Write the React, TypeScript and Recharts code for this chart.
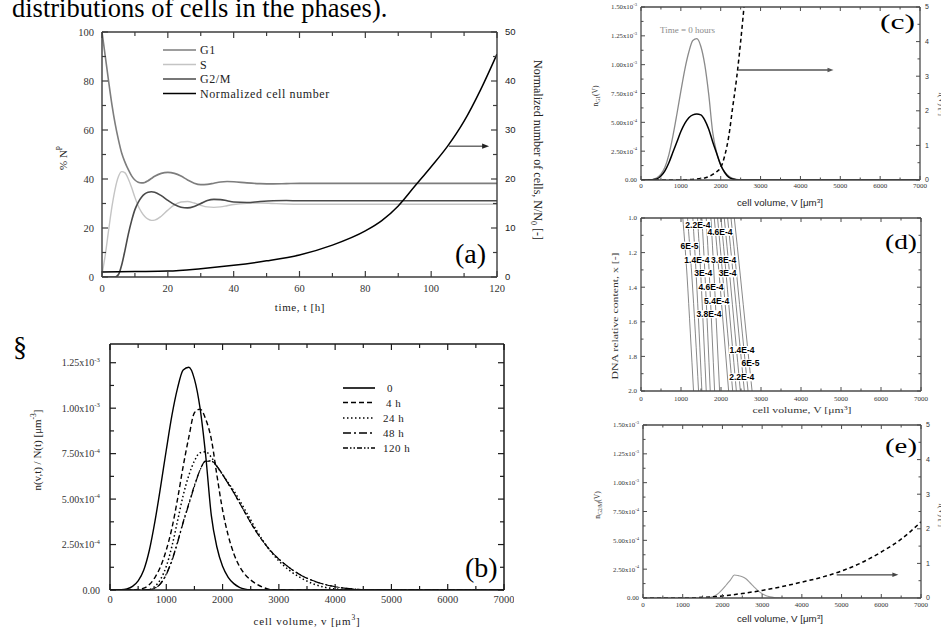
import React from 'react';
import { LineChart, Line, XAxis, YAxis, ReferenceLine, ReferenceDot } from 'recharts';

const SERIF = '"Liberation Serif", "Times New Roman", serif';
const SANS = '"Liberation Sans", Arial, sans-serif';

// ---------------- (a) phase fractions and cell number ----------------
const tPhase = [0,1,2,3,4,5,6,7,8,9,10,11,12,13,14,15,16,18,20,22,24,26,28,30,32,34,36,38,40,44,48,52,56,60,70,80,90,100,110,120];
const g1Pct = [100,90,80,70.5,62.5,56,50.5,46.8,43.8,41.3,39.6,38.7,38.4,38.6,39.3,40.2,41.1,42.3,42.7,42.3,41.2,39.6,38.3,37.7,37.8,38.3,38.8,39.0,38.9,38.4,38.1,38.0,38.1,38.2,38.2,38.2,38.2,38.2,38.2,38.2];
const sPct = [1,9,19,28.5,36,41,43,42.5,40,36.5,32.5,29,26.5,24.7,23.6,23.1,23.2,24.8,27.3,29.4,30.6,30.8,30.2,29.3,28.6,28.4,28.6,29.1,29.6,30.1,30.2,30.0,29.8,29.7,29.7,29.7,29.7,29.7,29.7,29.7];
const g2mPct = [0,0,0,0,0,1,5,11,17.5,23,27.5,30.5,32.6,33.9,34.6,34.8,34.6,33.2,31.3,29.6,28.5,28.2,28.8,30,31.2,31.7,31.6,31.1,30.6,30.4,30.8,31.1,31.2,31.1,31.1,31.1,31.1,31.1,31.1,31.1];
const tCells = [0,10,20,30,40,50,60,70,80,85,90,95,100,105,110,115,120];
const cellsNorm = [1,1.1,1.2,1.7,2.4,3.3,4.5,6.5,9.4,11.5,14.5,18.5,22.5,26.7,31.8,38.2,45.5];

const tTicksA = [0,10,20,30,40,50,60,70,80,90,100,110,120];
const tLabelsA = [0,20,40,60,80,100,120];
const pctTicks = [0,10,20,30,40,50,60,70,80,90,100];
const pctLabels = [0,20,40,60,80,100];
const nTicks = [0,5,10,15,20,25,30,35,40,45,50];
const nLabels = [0,10,20,30,40,50];

// ---------------- (b) volume distributions (units of 1e-3 um^-3) ----------------
const vB = [0,200,300,400,500,600,700,800,900,1000,1100,1200,1300,1400,1500,1600,1700,1800,1900,2000,2100,2200,2300,2400,2500,2600,2700,2800,2900,3000,3200,3400,3600,3800,4000,4200,4400,4600,4800,5000,6000,7000];
const nB0 = [0,0.001,0.006,0.02,0.05,0.11,0.22,0.38,0.57,0.77,0.96,1.11,1.21,1.225,1.16,1.0,0.74,0.41,0.235,0.13,0.07,0.035,0.015,0.005,0.001,0,0,0,0,0,0,0,0,0,0,0,0,0,0,0,0,0];
const nB4 = [0,0,0,0,0.003,0.01,0.03,0.07,0.13,0.22,0.34,0.5,0.68,0.84,0.975,0.995,0.94,0.83,0.63,0.44,0.3,0.2,0.13,0.085,0.055,0.033,0.017,0.006,0.001,0,0,0,0,0,0,0,0,0,0,0,0,0];
const nB24 = [0,0,0,0,0,0,0.003,0.02,0.06,0.13,0.24,0.38,0.52,0.63,0.71,0.755,0.76,0.73,0.68,0.635,0.59,0.545,0.495,0.44,0.385,0.33,0.28,0.235,0.195,0.16,0.105,0.065,0.035,0.016,0.006,0.002,0,0,0,0,0,0];
const nB48 = [0,0,0,0,0,0,0.002,0.01,0.035,0.085,0.16,0.26,0.37,0.47,0.57,0.66,0.71,0.71,0.68,0.635,0.585,0.535,0.48,0.425,0.37,0.32,0.275,0.235,0.2,0.17,0.12,0.08,0.052,0.032,0.018,0.009,0.004,0.0015,0.0005,0,0,0];
const nB120 = [0,0,0,0,0,0,0.002,0.011,0.037,0.088,0.165,0.265,0.375,0.475,0.575,0.66,0.708,0.708,0.68,0.635,0.585,0.535,0.48,0.425,0.37,0.32,0.275,0.235,0.2,0.17,0.12,0.08,0.052,0.032,0.018,0.009,0.004,0.0015,0.0005,0,0,0];
const legendBNames = ['0', '4 h', '24 h', '48 h', '120 h'];

const vTicks = [0,500,1000,1500,2000,2500,3000,3500,4000,4500,5000,5500,6000,6500,7000];
const vLabels = [0,1000,2000,3000,4000,5000,6000,7000];
const densTicksB = [0,0.125,0.25,0.375,0.5,0.625,0.75,0.875,1,1.125,1.25];
const densLabelsB = [0,0.25,0.5,0.75,1,1.25];

// ---------------- (c) G1 at t = 0 ----------------
const nG1Black = [0,0,0.003,0.01,0.035,0.08,0.15,0.24,0.33,0.42,0.49,0.54,0.565,0.572,0.565,0.52,0.44,0.33,0.23,0.13,0.065,0.025,0.008,0.002,0,0,0,0,0,0,0,0,0,0,0,0,0,0,0,0,0,0];
const vCd = [0,1000,1200,1400,1600,1700,1800,1900,2000,2100,2200,2300,2400,2500,2600];
const fC = [0,0,0.01,0.03,0.06,0.1,0.16,0.24,0.36,0.7,1.25,2.1,2.95,4.0,5.2];
const densTicksC = [0,0.125,0.25,0.375,0.5,0.625,0.75,0.875,1,1.125,1.25,1.375,1.5];
const densLabelsC = [0,0.25,0.5,0.75,1,1.25,1.5];
const fTicks = [0,0.5,1,1.5,2,2.5,3,3.5,4,4.5,5];
const fLabels = [0,1,2,3,4,5];

// ---------------- (d) contour lines (V at DNA content 1.0, 1.33, 1.67, 2.0) ----------------
const contourDna = [1.0, 1.33, 1.67, 2.0];
const contourLinesV = [
  [1045, 1150, 1235, 1313],
  [1163, 1270, 1360, 1439],
  [1296, 1380, 1455, 1522],
  [1413, 1495, 1565, 1631],
  [1522, 1600, 1668, 1731],
  [1631, 1708, 1776, 1840],
  [1748, 1826, 1897, 1965],
  [1832, 1955, 2075, 2191],
  [1915, 2042, 2168, 2292],
  [1999, 2130, 2258, 2384],
  [2082, 2218, 2352, 2484],
  [2166, 2306, 2446, 2584],
  [2250, 2393, 2535, 2676],
  [2333, 2482, 2630, 2777],
];
const contourLabelText = ['2.2E-4','4.6E-4','6E-5','1.4E-4','3.8E-4','3E-4','3E-4','4.6E-4','5.4E-4','3.8E-4','1.4E-4','6E-5','2.2E-4'];
const contourLabelV = [1422,1974,1213,1397,2066,1556,2166,1748,1890,1698,2526,2735,2517];
const contourLabelX = [1.04,1.08,1.16,1.24,1.24,1.32,1.32,1.40,1.48,1.556,1.763,1.84,1.921];
const dnaTicks = [1,1.1,1.2,1.3,1.4,1.5,1.6,1.7,1.8,1.9,2];
const dnaLabels = [1,1.2,1.4,1.6,1.8,2];

// ---------------- (e) G2/M ----------------
const vE = [0,1500,1600,1700,1800,1900,2000,2100,2200,2300,2400,2500,2600,2700,2800,2900,3000,3100,3200,3300,3400,3500,7000];
const nG2Me = [0,0,0.002,0.006,0.018,0.04,0.075,0.115,0.155,0.199,0.194,0.185,0.165,0.13,0.095,0.062,0.037,0.02,0.01,0.004,0.001,0,0];
const vEd = [0,1000,1500,2000,2500,3000,3500,4000,4500,5000,5500,6000,6500,7000];
const fE = [0,0,0.02,0.06,0.13,0.22,0.33,0.46,0.6,0.78,1.02,1.33,1.7,2.2];

// ---------------- helpers ----------------
type Side = 'left' | 'right' | 'top' | 'bottom';
type TickSpec = {
  side: Side; gap: number; majors: number[]; len: number; minor: number;
  stroke: string; sw: number;
  fmt?: (v: number) => React.ReactNode; font?: string; size?: number; fill?: string;
};
const near = (a: number[], v: number) => a.some((m) => Math.abs(m - v) < 1e-6);
const mkTick = (s: TickSpec) => (p: any) => {
  const x = Number(p.x);
  const y = Number(p.y);
  const v = Number(p.payload ? p.payload.value : NaN);
  const major = near(s.majors, v);
  const L = major ? s.len : s.minor;
  const ls = { stroke: s.stroke, strokeWidth: s.sw };
  const size = s.size || 10;
  const ts: any = { fontFamily: s.font || SERIF, fontSize: size, fill: s.fill || '#222' };
  const lab = major && s.fmt ? s.fmt(v) : null;
  if (s.side === 'bottom') {
    const a = y - s.gap;
    return (
      <g>
        <line x1={x} x2={x} y1={a} y2={a - L} {...ls} />
        {lab !== null && <text x={x} y={y} textAnchor="middle" style={ts}>{lab}</text>}
      </g>
    );
  }
  if (s.side === 'top') {
    const a = y + s.gap;
    return <g><line x1={x} x2={x} y1={a} y2={a + L} {...ls} /></g>;
  }
  if (s.side === 'left') {
    const a = x + s.gap;
    return (
      <g>
        <line x1={a} x2={a + L} y1={y} y2={y} {...ls} />
        {lab !== null && <text x={x} y={y} dy={size * 0.35} textAnchor="end" style={ts}>{lab}</text>}
      </g>
    );
  }
  const a = x - s.gap;
  return (
    <g>
      <line x1={a} x2={a - L} y1={y} y2={y} {...ls} />
      {lab !== null && <text x={x} y={y} dy={size * 0.35} textAnchor="start" style={ts}>{lab}</text>}
    </g>
  );
};

const expLabel = (size: number) => (v: number): React.ReactNode => {
  if (v === 0) return '0.00';
  const val = v * 1e-3;
  const e = Math.floor(Math.log10(val) + 1e-9);
  const m = val / Math.pow(10, e);
  return (
    <>
      <tspan>{m.toFixed(2)}x10</tspan>
      <tspan dy={-size * 0.45} fontSize={size * 0.68}>{String(e)}</tspan>
    </>
  );
};

const arrowShape = (color: string, w: number, head: number) => (p: any) => {
  const x1 = Number(p.x1), y1 = Number(p.y1), x2 = Number(p.x2), y2 = Number(p.y2);
  return (
    <g>
      <line x1={x1} y1={y1} x2={x2 - head * 0.8} y2={y2} stroke={color} strokeWidth={w} />
      <polygon points={`${x2},${y2} ${x2 - head},${y2 - head * 0.38} ${x2 - head},${y2 + head * 0.38}`} fill={color} />
    </g>
  );
};

const charW: Record<string, number> = { '.': 0.278, E: 0.667, '-': 0.333 };
const textW = (s: string, size: number) => s.split('').reduce((a, c) => a + (charW[c] ?? 0.556), 0) * size;
const contourLabelShape = (label: string) => (p: any) => {
  const cx = Number(p.cx), cy = Number(p.cy);
  const w = textW(label, 8.5);
  return (
    <g>
      <rect x={cx - w / 2 - 0.5} y={cy - 4} width={w + 1} height={8} fill="#fff" />
      <text x={cx} y={cy} dy={3.1} textAnchor="middle" fontFamily={SANS} fontWeight="bold" fontSize={8.5} fill="#000">{label}</text>
    </g>
  );
};

const M0 = { top: 0, right: 0, bottom: 0, left: 0 };

// ---------------- panels ----------------
function PanelA() {
  const AX = '#3c3c3c';
  const phase = tPhase.map((t, i) => ({ t, g1: g1Pct[i], s: sPct[i], g2m: g2mPct[i] }));
  const cells = tCells.map((t, i) => ({ t, n: cellsNorm[i] }));
  const axl = { stroke: AX, strokeWidth: 1.4 };
  return (
    <div style={{ position: 'absolute', left: 40, top: 22 }}>
      <LineChart width={502} height={295} margin={M0}>
        <XAxis xAxisId={0} type="number" dataKey="t" domain={[0, 120]} allowDataOverflow ticks={tTicksA} interval={0}
          height={40} tickSize={0} tickMargin={15} tickLine={false} axisLine={axl}
          tick={mkTick({ side: 'bottom', gap: 15, majors: tLabelsA, len: 6, minor: 4, stroke: AX, sw: 1.2, fmt: (v) => String(v), size: 10.5, fill: '#333' })} />
        <XAxis xAxisId="top" orientation="top" type="number" dataKey="t" domain={[0, 120]} allowDataOverflow ticks={tTicksA} interval={0}
          height={10} tickSize={0} tickMargin={0} tickLine={false} axisLine={axl}
          tick={mkTick({ side: 'top', gap: 0, majors: tLabelsA, len: 6, minor: 4, stroke: AX, sw: 1.2 })} />
        <YAxis yAxisId="left" type="number" domain={[0, 100]} allowDataOverflow ticks={pctTicks} interval={0}
          width={62} tickSize={0} tickMargin={8} tickLine={false} axisLine={axl}
          tick={mkTick({ side: 'left', gap: 8, majors: pctLabels, len: 6, minor: 4, stroke: AX, sw: 1.2, fmt: (v) => String(v), size: 10.5, fill: '#333' })} />
        <YAxis yAxisId="right" orientation="right" type="number" domain={[0, 50]} allowDataOverflow ticks={nTicks} interval={0}
          width={45} tickSize={0} tickMargin={8} tickLine={false} axisLine={axl}
          tick={mkTick({ side: 'right', gap: 8, majors: nLabels, len: 6, minor: 4, stroke: AX, sw: 1.2, fmt: (v) => String(v), font: SANS, size: 9.5, fill: '#222' })} />
        <Line data={phase} yAxisId="left" dataKey="s" type="monotone" stroke="#c4c4c4" strokeWidth={1.4} dot={false} activeDot={false} isAnimationActive={false} />
        <Line data={phase} yAxisId="left" dataKey="g1" type="monotone" stroke="#7d7d7d" strokeWidth={1.6} dot={false} activeDot={false} isAnimationActive={false} />
        <Line data={phase} yAxisId="left" dataKey="g2m" type="monotone" stroke="#4a4a4a" strokeWidth={1.6} dot={false} activeDot={false} isAnimationActive={false} />
        <Line data={cells} yAxisId="right" dataKey="n" type="monotone" stroke="#000" strokeWidth={1.5} dot={false} activeDot={false} isAnimationActive={false} />
        <ReferenceLine yAxisId="right" segment={[{ x: 105.4, y: 26.7 }, { x: 117.6, y: 26.7 }]} shape={arrowShape('#222', 1, 7)} />
      </LineChart>
    </div>
  );
}

function PanelB() {
  const AX = '#1a1a1a';
  const data = vB.map((v, i) => ({ v, a: nB0[i], b: nB4[i], c: nB24[i], d: nB48[i], e: nB120[i] }));
  const axl = { stroke: AX, strokeWidth: 1.5 };
  const common = { type: 'monotone' as const, stroke: '#000', strokeWidth: 1.4, dot: false, activeDot: false, isAnimationActive: false };
  return (
    <div style={{ position: 'absolute', left: 10, top: 334 }}>
      <LineChart width={504} height={296} data={data} margin={M0}>
        <XAxis xAxisId={0} type="number" dataKey="v" domain={[0, 7000]} allowDataOverflow ticks={vTicks} interval={0}
          height={40} tickSize={0} tickMargin={12.5} tickLine={false} axisLine={axl}
          tick={mkTick({ side: 'bottom', gap: 12.5, majors: vLabels, len: 6, minor: 4, stroke: AX, sw: 1.2, fmt: (v) => String(v), size: 10.5, fill: '#333' })} />
        <XAxis xAxisId="top" orientation="top" type="number" dataKey="v" domain={[0, 7000]} allowDataOverflow ticks={vTicks} interval={0}
          height={10} tickSize={0} tickMargin={0} tickLine={false} axisLine={axl}
          tick={mkTick({ side: 'top', gap: 0, majors: vLabels, len: 6, minor: 4, stroke: AX, sw: 1.2 })} />
        <YAxis yAxisId={0} type="number" domain={[0, 1.353]} allowDataOverflow ticks={densTicksB} interval={0}
          width={100} tickSize={0} tickMargin={10} tickLine={false} axisLine={axl}
          tick={mkTick({ side: 'left', gap: 10, majors: densLabelsB, len: 6, minor: 4, stroke: AX, sw: 1.2, fmt: expLabel(10), size: 10, fill: '#333' })} />
        <YAxis yAxisId="r" orientation="right" type="number" domain={[0, 1.353]} allowDataOverflow ticks={densTicksB} interval={0}
          width={10} tickSize={0} tickMargin={0} tickLine={false} axisLine={axl}
          tick={mkTick({ side: 'right', gap: 0, majors: densLabelsB, len: 6, minor: 4, stroke: AX, sw: 1.2 })} />
        <Line {...common} dataKey="e" strokeDasharray="6 2.5 1.5 2.5 1.5 2.5" strokeWidth={1.2} />
        <Line {...common} dataKey="d" strokeDasharray="8 3 2 3" strokeWidth={1.2} />
        <Line {...common} dataKey="c" strokeDasharray="1.5 2.5" strokeWidth={1.5} />
        <Line {...common} dataKey="b" strokeDasharray="5 3" />
        <Line {...common} dataKey="a" />
      </LineChart>
    </div>
  );
}

function PanelC() {
  const AX = '#4a4a4a';
  const data = vB.map((v, i) => ({ v, g: nB0[i], k: nG1Black[i] }));
  const dash = vCd.map((v, i) => ({ v, f: fC[i] }));
  const axl = { stroke: AX, strokeWidth: 1.3 };
  return (
    <div style={{ position: 'absolute', left: 585, top: 1 }}>
      <LineChart width={353} height={201} margin={M0}>
        <XAxis xAxisId={0} type="number" dataKey="v" domain={[0, 7000]} allowDataOverflow ticks={vTicks} interval={0}
          height={22} tickSize={0} tickMargin={7.5} tickLine={false} axisLine={axl}
          tick={mkTick({ side: 'bottom', gap: 7.5, majors: vLabels, len: 4, minor: 2.5, stroke: AX, sw: 1, fmt: (v) => String(v), size: 7, fill: '#333' })} />
        <XAxis xAxisId="top" orientation="top" type="number" dataKey="v" domain={[0, 7000]} allowDataOverflow ticks={vTicks} interval={0}
          height={6} tickSize={0} tickMargin={0} tickLine={false} axisLine={axl}
          tick={mkTick({ side: 'top', gap: 0, majors: vLabels, len: 4, minor: 2.5, stroke: AX, sw: 1 })} />
        <YAxis yAxisId={0} type="number" domain={[0, 1.5]} allowDataOverflow ticks={densTicksC} interval={0}
          width={56} tickSize={0} tickMargin={4} tickLine={false} axisLine={axl}
          tick={mkTick({ side: 'left', gap: 4, majors: densLabelsC, len: 4, minor: 2.5, stroke: AX, sw: 1, fmt: expLabel(6.8), size: 6.8, fill: '#333' })} />
        <YAxis yAxisId="r" orientation="right" type="number" domain={[0, 5]} allowDataOverflow ticks={fTicks} interval={0}
          width={18} tickSize={0} tickMargin={5} tickLine={false} axisLine={axl}
          tick={mkTick({ side: 'right', gap: 5, majors: fLabels, len: 4, minor: 2.5, stroke: AX, sw: 1, fmt: (v) => String(v), font: SANS, size: 7, fill: '#333' })} />
        <Line data={data} dataKey="g" type="monotone" stroke="#8a8a8a" strokeWidth={1.3} dot={false} activeDot={false} isAnimationActive={false} />
        <Line data={data} dataKey="k" type="monotone" stroke="#000" strokeWidth={1.5} dot={false} activeDot={false} isAnimationActive={false} />
        <Line data={dash} yAxisId="r" dataKey="f" type="monotone" stroke="#000" strokeWidth={1.5} strokeDasharray="4 3" dot={false} activeDot={false} isAnimationActive={false} />
        <ReferenceLine yAxisId="r" segment={[{ x: 2434, y: 3.18 }, { x: 4830, y: 3.18 }]} shape={arrowShape('#555', 1.5, 6)} />
      </LineChart>
    </div>
  );
}

function PanelD() {
  const AX = '#4a4a4a';
  const axl = { stroke: AX, strokeWidth: 1.3 };
  const lines = contourLinesV.map((vs) => vs.map((v, j) => ({ v, x: contourDna[j] })));
  return (
    <div style={{ position: 'absolute', left: 585, top: 212 }}>
      <LineChart width={348} height={199} margin={M0}>
        <XAxis xAxisId={0} type="number" dataKey="v" domain={[0, 7000]} allowDataOverflow ticks={vTicks} interval={0}
          height={20} tickSize={0} tickMargin={9.5} tickLine={false} axisLine={axl}
          tick={mkTick({ side: 'bottom', gap: 9.5, majors: vLabels, len: 4, minor: 2.5, stroke: AX, sw: 1, fmt: (v) => String(v), size: 7, fill: '#333' })} />
        <XAxis xAxisId="top" orientation="top" type="number" dataKey="v" domain={[0, 7000]} allowDataOverflow ticks={vTicks} interval={0}
          height={6} tickSize={0} tickMargin={0} tickLine={false} axisLine={axl}
          tick={mkTick({ side: 'top', gap: 0, majors: vLabels, len: 4, minor: 2.5, stroke: AX, sw: 1 })} />
        <YAxis yAxisId={0} type="number" domain={[1, 2]} reversed allowDataOverflow ticks={dnaTicks} interval={0}
          width={56} tickSize={0} tickMargin={4} tickLine={false} axisLine={axl}
          tick={mkTick({ side: 'left', gap: 4, majors: dnaLabels, len: 4, minor: 2.5, stroke: AX, sw: 1, fmt: (v) => v.toFixed(1), size: 7, fill: '#333' })} />
        <YAxis yAxisId="r" orientation="right" type="number" domain={[1, 2]} reversed allowDataOverflow ticks={dnaTicks} interval={0}
          width={12} tickSize={0} tickMargin={0} tickLine={false} axisLine={axl}
          tick={mkTick({ side: 'right', gap: 0, majors: dnaLabels, len: 4, minor: 2.5, stroke: AX, sw: 1 })} />
        {lines.map((d, i) => (
          <Line key={i} data={d} dataKey="x" type="monotone" stroke="#555" strokeWidth={0.7} dot={false} activeDot={false} isAnimationActive={false} />
        ))}
        {contourLabelText.map((t, i) => (
          <ReferenceDot key={'l' + i} x={contourLabelV[i]} y={contourLabelX[i]} r={0} ifOverflow="visible" shape={contourLabelShape(t)} />
        ))}
      </LineChart>
    </div>
  );
}

function PanelE() {
  const AX = '#4a4a4a';
  const axl = { stroke: AX, strokeWidth: 1.3 };
  const bell = vE.map((v, i) => ({ v, n: nG2Me[i] }));
  const dash = vEd.map((v, i) => ({ v, f: fE[i] }));
  return (
    <div style={{ position: 'absolute', left: 585, top: 419 }}>
      <LineChart width={354} height={205} margin={M0}>
        <XAxis xAxisId={0} type="number" dataKey="v" domain={[0, 7000]} allowDataOverflow ticks={vTicks} interval={0}
          height={26} tickSize={0} tickMargin={8.5} tickLine={false} axisLine={axl}
          tick={mkTick({ side: 'bottom', gap: 8.5, majors: vLabels, len: 4, minor: 2.5, stroke: AX, sw: 1, fmt: (v) => String(v), size: 7, fill: '#333' })} />
        <XAxis xAxisId="top" orientation="top" type="number" dataKey="v" domain={[0, 7000]} allowDataOverflow ticks={vTicks} interval={0}
          height={6} tickSize={0} tickMargin={0} tickLine={false} axisLine={axl}
          tick={mkTick({ side: 'top', gap: 0, majors: vLabels, len: 4, minor: 2.5, stroke: AX, sw: 1 })} />
        <YAxis yAxisId={0} type="number" domain={[0, 1.5]} allowDataOverflow ticks={densTicksC} interval={0}
          width={58} tickSize={0} tickMargin={4} tickLine={false} axisLine={axl}
          tick={mkTick({ side: 'left', gap: 4, majors: densLabelsC, len: 4, minor: 2.5, stroke: AX, sw: 1, fmt: expLabel(6.8), size: 6.8, fill: '#333' })} />
        <YAxis yAxisId="r" orientation="right" type="number" domain={[0, 5]} allowDataOverflow ticks={fTicks} interval={0}
          width={18} tickSize={0} tickMargin={5} tickLine={false} axisLine={axl}
          tick={mkTick({ side: 'right', gap: 5, majors: fLabels, len: 4, minor: 2.5, stroke: AX, sw: 1, fmt: (v) => String(v), font: SANS, size: 7, fill: '#333' })} />
        <Line data={bell} dataKey="n" type="monotone" stroke="#9a9a9a" strokeWidth={1.1} dot={false} activeDot={false} isAnimationActive={false} />
        <Line data={dash} yAxisId="r" dataKey="f" type="monotone" stroke="#000" strokeWidth={1.5} strokeDasharray="4 3" dot={false} activeDot={false} isAnimationActive={false} />
        <ReferenceLine yAxisId="r" segment={[{ x: 4877, y: 0.67 }, { x: 6430, y: 0.67 }]} shape={arrowShape('#444', 1.2, 6)} />
      </LineChart>
    </div>
  );
}

const legendA = [
  { name: 'G1', color: '#7d7d7d', w: 1.6 },
  { name: 'S', color: '#c4c4c4', w: 1.4 },
  { name: 'G2/M', color: '#4a4a4a', w: 1.6 },
  { name: 'Normalized cell number', color: '#000', w: 1.5 },
];
const legendBDash = [undefined, '5 3', '1.5 2.5', '8 3 2 3', '5 2 1.5 2 1.5 2'];

function Overlay() {
  const rowsA = [50, 64.5, 79, 93.5];
  const rowsB = [388, 402.5, 418, 433, 448];
  const textXB = [387, 386, 383, 383, 383];
  return (
    <svg width={941} height={631} style={{ position: 'absolute', left: 0, top: 0, pointerEvents: 'none' }}>
      <text x={12} y={17} fontFamily={SERIF} fontSize={26.5} fill="#000">distributions of cells in the phases).</text>

      {/* (a) legend */}
      {legendA.map((l, i) => (
        <g key={i}>
          <line x1={163} x2={196} y1={rowsA[i]} y2={rowsA[i]} stroke={l.color} strokeWidth={l.w} />
          <text x={200} y={rowsA[i] + 4.2} fontFamily={SERIF} fontSize={12} letterSpacing={0.6} fill="#222">{l.name}</text>
        </g>
      ))}
      <text transform="translate(63,158) rotate(-90)" textAnchor="middle" dy={4} fontFamily={SERIF} fontSize={11} fill="#222">
        % N<tspan dy={-5} fontSize={7.5}>P</tspan>
      </text>
      <text transform="translate(538,150) rotate(90)" textAnchor="middle" dy={4} fontFamily={SERIF} fontSize={12} fill="#222">
        Normalized number of cells, N/N<tspan dy={3} fontSize={8}>0</tspan><tspan dy={-3}> [-]</tspan>
      </text>
      <text x={300} y={311} textAnchor="middle" fontFamily={SERIF} fontSize={11} letterSpacing={0.6} fill="#222">time, t [h]</text>
      <text x={455} y={263} fontFamily={SERIF} fontSize={28} fill="#000">(a)</text>

      {/* (b) */}
      <text x={13} y={356} fontFamily={SERIF} fontSize={28} fill="#000">§</text>
      <text transform="translate(37,450) rotate(-90)" textAnchor="middle" dy={4} fontFamily={SERIF} fontSize={11} fill="#222">
        n(v,t) / N(t) [μm<tspan dy={-5} fontSize={7.5}>-3</tspan><tspan dy={5}>]</tspan>
      </text>
      <text x={307} y={625} textAnchor="middle" fontFamily={SERIF} fontSize={11} letterSpacing={0.8} fill="#222">
        cell volume, v [μm<tspan dy={-5} fontSize={7.5}>3</tspan><tspan dy={5}>]</tspan>
      </text>
      {legendBNames.map((n, i) => (
        <g key={i}>
          <line x1={343} x2={375} y1={rowsB[i]} y2={rowsB[i]} stroke="#000" strokeWidth={i === 0 ? 1.6 : 1.3} strokeDasharray={legendBDash[i]} />
          <text x={textXB[i]} y={rowsB[i] + 4} fontFamily={SERIF} fontSize={11} letterSpacing={0.5} fill="#222">{n}</text>
        </g>
      ))}
      <text x={465} y={577} fontFamily={SERIF} fontSize={28} fill="#000">(b)</text>

      {/* (c) */}
      <text transform="translate(595,96) rotate(-90)" textAnchor="middle" dy={2.5} fontFamily={SERIF} fontSize={7.5} fill="#333">
        n<tspan dy={2} fontSize={5.5}>G1</tspan><tspan dy={-2}>(V)</tspan>
      </text>
      <text transform="translate(941,104) rotate(90)" textAnchor="middle" dy={2.5} fontFamily={SERIF} fontSize={8} fill="#333">f(V)  [-]</text>
      <text x={780} y={206} textAnchor="middle" fontFamily={SANS} fontSize={9} textLength={86} lengthAdjust="spacingAndGlyphs" fill="#222">
        cell volume, V [μm<tspan dy={-3.5} fontSize={6}>3</tspan><tspan dy={3.5}>]</tspan>
      </text>
      <text x={660} y={33} fontFamily={SERIF} fontSize={7.5} textLength={55} lengthAdjust="spacingAndGlyphs" fill="#8a8a8a">Time = 0 hours</text>
      <text x={880} y={29} fontFamily={SERIF} fontSize={22} textLength={35} lengthAdjust="spacingAndGlyphs" fill="#000">(c)</text>

      {/* (d) */}
      <text transform="translate(615,316) rotate(-90)" textAnchor="middle" dy={3} fontFamily={SERIF} fontSize={9} textLength={127} lengthAdjust="spacingAndGlyphs" fill="#333">DNA relative content, x [-]</text>
      <text x={802} y={413} textAnchor="middle" fontFamily={SERIF} fontSize={9} textLength={99} lengthAdjust="spacingAndGlyphs" fill="#333">
        cell volume, V [μm<tspan dy={-3.5} fontSize={6}>3</tspan><tspan dy={3.5}>]</tspan>
      </text>
      <text x={885} y={249} fontFamily={SERIF} fontSize={22} textLength={32} lengthAdjust="spacingAndGlyphs" fill="#000">(d)</text>

      {/* (e) */}
      <text transform="translate(597,505) rotate(-90)" textAnchor="middle" dy={2.5} fontFamily={SERIF} fontSize={7.5} fill="#333">
        n<tspan dy={2} fontSize={5.5}>G2/M</tspan><tspan dy={-2}>(V)</tspan>
      </text>
      <text transform="translate(941,515) rotate(90)" textAnchor="middle" dy={2.5} fontFamily={SERIF} fontSize={8} fill="#333">f(V)  [-]</text>
      <text x={780} y={622} textAnchor="middle" fontFamily={SANS} fontSize={9} textLength={86} lengthAdjust="spacingAndGlyphs" fill="#222">
        cell volume, V [μm<tspan dy={-3.5} fontSize={6}>3</tspan><tspan dy={3.5}>]</tspan>
      </text>
      <text x={885} y={453} fontFamily={SERIF} fontSize={22} textLength={32} lengthAdjust="spacingAndGlyphs" fill="#000">(e)</text>
    </svg>
  );
}

export default function App() {
  return (
    <div style={{ position: 'absolute', left: 0, top: 0, width: 941, height: 631, background: '#fff', overflow: 'hidden' }}>
      <PanelA />
      <PanelB />
      <PanelC />
      <PanelD />
      <PanelE />
      <Overlay />
    </div>
  );
}
